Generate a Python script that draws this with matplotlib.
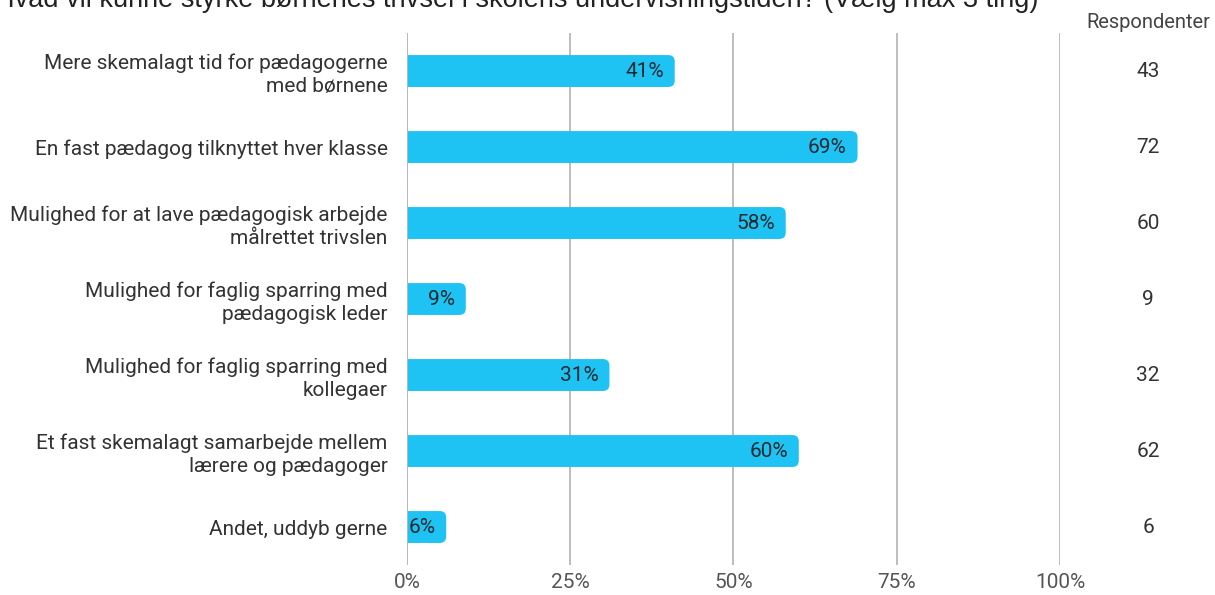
import matplotlib.pyplot as plt
from matplotlib.patches import FancyBboxPatch

plt.rcParams['font.family'] = ['Roboto', 'DejaVu Sans']

# Data
kategorier = [
    "Mere skemalagt tid for pædagogerne\nmed børnene",
    "En fast pædagog tilknyttet hver klasse",
    "Mulighed for at lave pædagogisk arbejde\nmålrettet trivslen",
    "Mulighed for faglig sparring med\npædagogisk leder",
    "Mulighed for faglig sparring med\nkollegaer",
    "Et fast skemalagt samarbejde mellem\nlærere og pædagoger",
    "Andet, uddyb gerne",
]
procent = [41, 69, 58, 9, 31, 60, 6]
respondenter = [43, 72, 60, 9, 32, 62, 6]
ticks = [0, 25, 50, 75, 100]
tick_labels = ["0%", "25%", "50%", "75%", "100%"]

bar_farve = "#1fc3f3"
grid_farve = "#b8b8b8"

fig = plt.figure(figsize=(12.15, 5.95), dpi=100)
ax = fig.add_axes([0.335, 0.0504, 0.5374, 0.8941])

n = len(kategorier)
ypos = list(range(n))
ax.set_xlim(0, 100)
ax.set_ylim(n - 0.5, -0.5)

# rundede søjler (venstre side klippes ved 0)
hoejde = 0.42
for y, v in zip(ypos, procent):
    p = FancyBboxPatch((-3, y - hoejde / 2), v + 3, hoejde,
                       boxstyle="round,pad=0,rounding_size=1",
                       mutation_aspect=0.085,
                       facecolor=bar_farve, edgecolor="none", zorder=3)
    ax.add_patch(p)
    ax.annotate(f"{v}%", xy=(v, y), xytext=(-11, 0), textcoords="offset pixels",
                ha="right", va="center", fontsize=15, color="#1e2a30", zorder=4)

ax.set_yticks(ypos)
ax.set_yticklabels(kategorier, fontsize=15, color="#333333", linespacing=1.27,
                   ha="right")
ax.tick_params(axis="y", length=0, pad=14)
ax.set_xticks(ticks)
ax.set_xticklabels(tick_labels, fontsize=15, color="#555555")
ax.tick_params(axis="x", length=0, pad=6)

for lbl in ax.get_yticklabels():
    lbl.set_multialignment("right")

for s in ax.spines.values():
    s.set_visible(False)
ax.grid(axis="x", color=grid_farve, linewidth=1.3, zorder=1)
ax.set_axisbelow(True)
ax.axvline(0, color=grid_farve, linewidth=1.3, zorder=5)

# Respondenter-kolonne
trans = ax.get_yaxis_transform()
for y, r in zip(ypos, respondenter):
    ax.text(1.135, y, str(r), transform=trans, ha="center", va="center",
            fontsize=15, color="#333333", clip_on=False)
fig.text(1148 / 1215, 1 - 22 / 595, "Respondenter", ha="center", va="center",
         fontsize=14.5, color="#444444")

# Titel (delvist skåret af i toppen, som i originalen)
fig.text(-0.004, 1 - 7 / 595,
         "Hvad vil kunne styrke børnenes trivsel i skolens undervisningstiden? (Vælg max 3 ting)",
         ha="left", va="baseline", fontsize=19.5, color="#222222",
         family=["Liberation Sans", "DejaVu Sans"])

fig.savefig("out.png", dpi=100)
